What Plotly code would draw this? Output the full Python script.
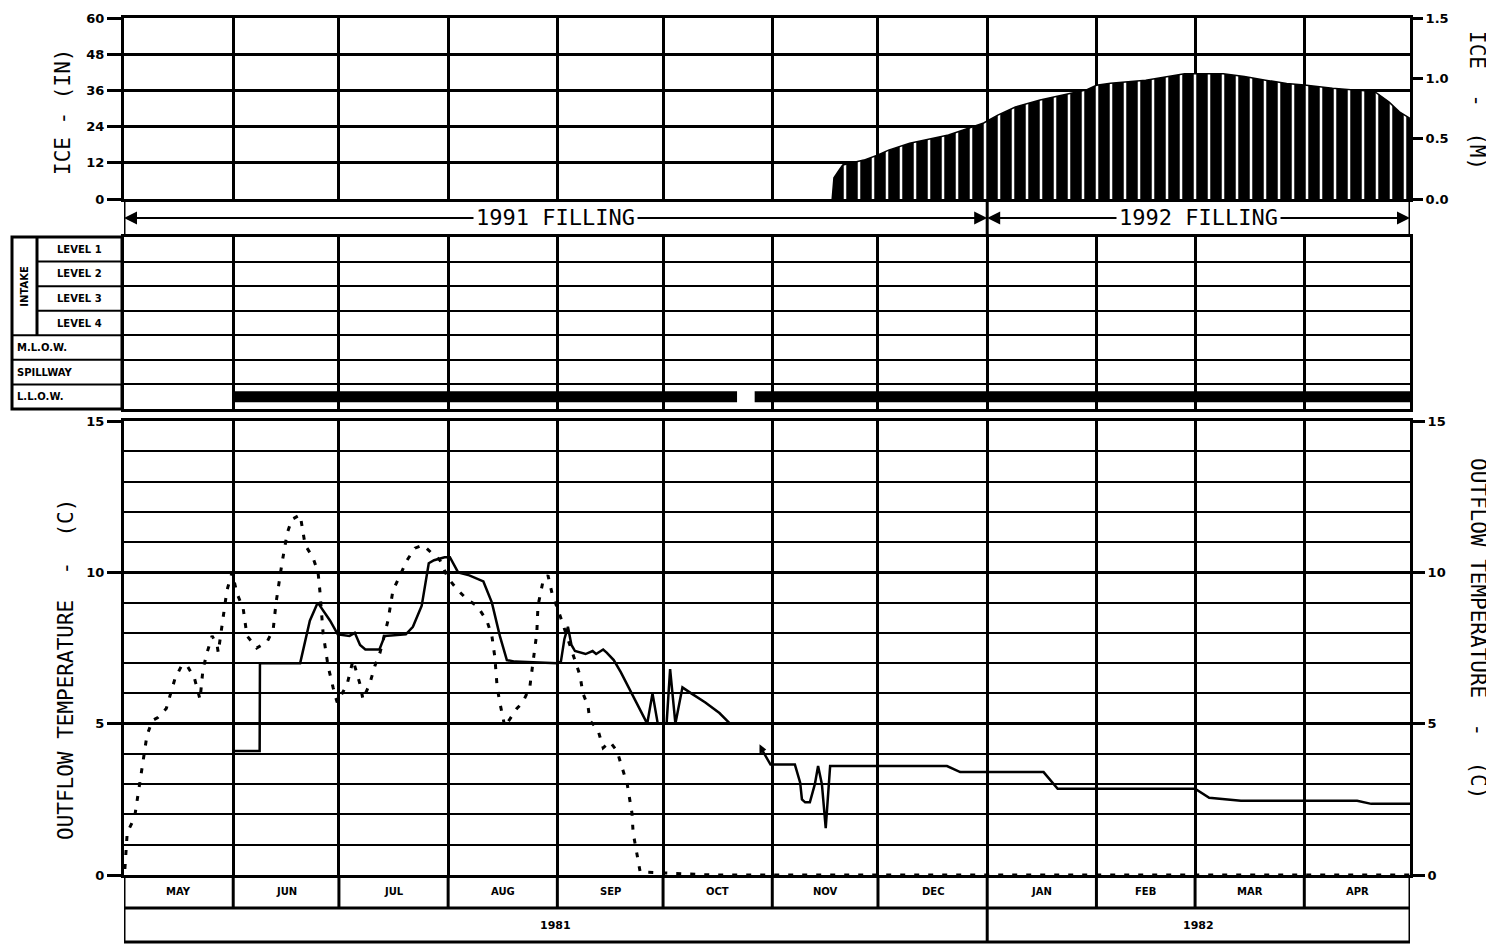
import pandas as pd
import plotly.graph_objects as go

# page has an 8px body margin; figure is sized to end exactly at the window edge
PAGE_OFF = 8
W, H = 1494 - PAGE_OFF, 946 - PAGE_OFF

# ---------------- data ----------------
month_starts = ["1981-05-01", "1981-06-01", "1981-07-01", "1981-08-01", "1981-09-01",
                "1981-10-01", "1981-11-01", "1981-12-01", "1982-01-01", "1982-02-01",
                "1982-03-01", "1982-04-01", "1982-05-01"]
month_labels = ["MAY", "JUN", "JUL", "AUG", "SEP", "OCT", "NOV", "DEC",
                "JAN", "FEB", "MAR", "APR"]
year_labels = ["1981", "1982"]
year_bounds = ["1981-05-01", "1982-01-01", "1982-05-01"]

filling_labels = ["1991 FILLING", "1992 FILLING"]
filling_bounds = ["1981-05-01", "1982-01-01", "1982-05-01"]

ice_in_ticks = [0, 12, 24, 36, 48, 60]
ice_m_ticks = [0.0, 0.5, 1.0, 1.5]
temp_ticks = [0, 5, 10, 15]

# ice thickness (inches)
ice_dates = ["1981-11-18", "1981-11-18 12:00", "1981-11-20", "1981-11-21", "1981-11-27",
             "1981-12-01", "1981-12-04", "1981-12-10", "1981-12-14", "1981-12-21",
             "1981-12-25", "1981-12-31", "1982-01-04", "1982-01-09", "1982-01-16",
             "1982-01-22", "1982-01-29", "1982-02-01", "1982-02-05", "1982-02-15",
             "1982-02-21", "1982-02-26", "1982-03-09", "1982-03-15", "1982-03-21",
             "1982-03-27", "1982-04-01", "1982-04-09", "1982-04-21", "1982-04-25",
             "1982-04-28", "1982-05-01"]
ice_in = [0, 7.0, 9.6, 11.3, 12.9,
          14.6, 16.2, 18.5, 19.5, 21.2,
          22.8, 25.2, 27.8, 30.5, 32.8,
          34.4, 36.1, 37.7, 38.4, 39.4,
          40.6, 41.5, 41.5, 40.6, 39.4,
          38.3, 37.8, 36.7, 35.6, 32.2,
          28.9, 26.7]

# outlet operation rows
intake_rows = ["LEVEL 1", "LEVEL 2", "LEVEL 3", "LEVEL 4", "M.L.O.W.", "SPILLWAY", "L.L.O.W."]
llow_start = ["1981-06-01", "1981-10-27"]
llow_end = ["1981-10-22", "1982-05-01"]

# dotted temperature series (deg C)
dotted_dates = ["1981-05-01 06:00", "1981-05-01 22:00", "1981-05-04", "1981-05-04 16:00",
                "1981-05-05 12:00", "1981-05-06", "1981-05-07 12:00", "1981-05-09",
                "1981-05-10 14:00", "1981-05-13", "1981-05-14 14:00", "1981-05-15 12:00",
                "1981-05-17 12:00", "1981-05-19", "1981-05-21", "1981-05-22",
                "1981-05-22 14:00", "1981-05-23 10:00", "1981-05-24 14:00", "1981-05-26",
                "1981-05-27 10:00", "1981-05-27 18:00", "1981-05-28 20:00", "1981-05-30 05:00",
                "1981-05-31 16:00", "1981-06-02 02:00", "1981-06-03 20:00", "1981-06-04 22:00",
                "1981-06-07 16:00", "1981-06-10 14:00", "1981-06-12 08:00", "1981-06-13 04:00",
                "1981-06-14 20:00", "1981-06-16 08:00", "1981-06-17 16:00", "1981-06-20",
                "1981-06-21 10:00", "1981-06-23 14:00", "1981-06-25 02:00", "1981-06-25 14:00",
                "1981-06-26 12:00", "1981-06-27 22:00", "1981-06-29 08:00", "1981-06-30 12:00",
                "1981-07-03 08:00", "1981-07-05", "1981-07-07", "1981-07-07 20:00",
                "1981-07-09 20:00", "1981-07-11 04:00", "1981-07-12 16:00", "1981-07-14 22:00",
                "1981-07-16 08:00", "1981-07-20 08:00", "1981-07-22 14:00", "1981-07-24 22:00",
                "1981-07-27 16:00", "1981-07-29 16:00", "1981-08-01", "1981-08-03 20:00",
                "1981-08-06 10:00", "1981-08-09 04:00", "1981-08-12", "1981-08-13 10:00",
                "1981-08-14 06:00", "1981-08-14 22:00", "1981-08-15 16:00", "1981-08-17 02:00",
                "1981-08-20 12:00", "1981-08-22 04:00", "1981-08-24 04:00", "1981-08-25 02:00",
                "1981-08-26 04:00", "1981-08-26 12:00", "1981-08-27 22:00", "1981-08-29 08:00",
                "1981-08-30 12:00", "1981-09-01 16:00", "1981-09-06", "1981-09-07 10:00",
                "1981-09-08 06:00", "1981-09-09 16:00", "1981-09-10 06:00", "1981-09-12 12:00",
                "1981-09-14", "1981-09-15 22:00", "1981-09-17 22:00", "1981-09-19 06:00",
                "1981-09-20 20:00", "1981-09-22 04:00", "1981-09-22 12:00", "1981-09-24 12:00",
                "1981-10-15", "1982-05-01"]
dotted_temp = [0.2, 1.4, 1.9, 2.4,
               3.0, 3.5, 4.6, 5.1,
               5.2, 5.5, 6.1, 6.5,
               6.95, 6.9, 6.5, 6.1,
               5.8, 6.8, 7.35, 7.9,
               7.6, 7.35, 8.3, 9.4,
               10.0, 9.3, 8.8, 7.9,
               7.5, 7.7, 8.1, 9.0,
               10.3, 11.3, 11.75, 11.9,
               10.9, 10.5, 10.0, 9.4,
               8.0, 6.9, 6.2, 5.7,
               6.3, 7.1, 6.3, 5.8,
               6.35, 6.9, 7.35, 8.4,
               9.4, 10.4, 10.8, 10.9,
               10.6, 10.4, 9.8, 9.4,
               9.1, 8.9, 8.4, 7.9,
               7.2, 6.2, 5.7, 4.9,
               5.5, 5.7, 6.2, 7.1,
               8.0, 8.9, 9.7, 9.9,
               9.3, 8.6, 7.1, 6.6,
               6.0, 5.6, 5.1, 4.8,
               4.2, 4.4, 4.1, 3.6,
               3.0, 2.05, 1.4, 0.1,
               0.0, 0.0]

# solid outflow temperature, first period
solid_a_dates = ["1981-06-01", "1981-06-08 12:00", "1981-06-08 14:00", "1981-06-20",
                 "1981-06-22 18:00", "1981-06-25", "1981-06-28 12:00", "1981-06-30 16:00",
                 "1981-07-04", "1981-07-05 12:00", "1981-07-07", "1981-07-08 12:00",
                 "1981-07-12 12:00", "1981-07-14", "1981-07-20", "1981-07-22",
                 "1981-07-24 12:00", "1981-07-26 12:00", "1981-07-28", "1981-07-31",
                 "1981-08-01 12:00", "1981-08-03 20:00", "1981-08-07", "1981-08-11",
                 "1981-08-13 10:00", "1981-08-15 16:00", "1981-08-17 16:00", "1981-08-20",
                 "1981-09-01", "1981-09-02", "1981-09-03", "1981-09-04",
                 "1981-09-05", "1981-09-06", "1981-09-09", "1981-09-11",
                 "1981-09-12", "1981-09-14", "1981-09-15", "1981-09-17",
                 "1981-09-19", "1981-09-22", "1981-09-25", "1981-09-26 12:00",
                 "1981-09-28", "1981-09-29 12:00", "1981-10-02", "1981-10-03",
                 "1981-10-04 12:00", "1981-10-06 12:00", "1981-10-09", "1981-10-13",
                 "1981-10-17", "1981-10-20"]
solid_a_temp = [4.1, 4.1, 7.0, 7.0,
                8.4, 9.0, 8.4, 7.95,
                7.9, 8.0, 7.6, 7.45,
                7.45, 7.9, 7.95, 8.2,
                8.9, 10.3, 10.4, 10.5,
                10.5, 10.0, 9.9, 9.7,
                9.0, 7.9, 7.1, 7.05,
                7.0, 7.05, 7.8, 8.2,
                7.6, 7.4, 7.3, 7.4,
                7.3, 7.45, 7.35, 7.1,
                6.7, 6.0, 5.3, 5.0,
                6.0, 5.0, 5.0, 6.8,
                5.0, 6.2, 6.0, 5.7,
                5.35, 5.0]

# solid outflow temperature, second period
solid_b_dates = ["1981-10-29", "1981-10-31 12:00", "1981-11-07 10:00", "1981-11-08 22:00",
                 "1981-11-09 10:00", "1981-11-10 08:00", "1981-11-11 16:00", "1981-11-13 02:00",
                 "1981-11-14", "1981-11-15 02:00", "1981-11-16 04:00", "1981-11-17 10:00",
                 "1981-12-20 14:00", "1981-12-24 08:00", "1982-01-17", "1982-01-21",
                 "1982-03-01", "1982-03-05", "1982-03-14", "1982-04-16",
                 "1982-04-20", "1982-05-01"]
solid_b_temp = [4.15, 3.65, 3.65, 3.05,
                2.5, 2.4, 2.4, 3.0,
                3.6, 3.0, 1.55, 3.6,
                3.6, 3.4, 3.4, 2.85,
                2.85, 2.55, 2.45, 2.45,
                2.35, 2.35]

# ---------------- layout helpers (window pixel -> paper fraction) ----------------
def fx(p):
    return (p - PAGE_OFF) / W

def fy(p):
    return 1 - (p - PAGE_OFF) / H

XD = [fx(124), fx(1410)]
ICE_TOP, ICE_BOT = 18, 199
INT_TOP, INT_BOT = 237, 409
TMP_TOP, TMP_BOT = 421, 875
MONTH_BOT, YEAR_BOT = 908, 942

BLACK = "black"
TICKFONT = dict(family="DejaVu Sans", size=13, color=BLACK, weight="bold")
TITLEFONT = dict(family="DejaVu Sans Mono", size=21, color=BLACK)
SMALLBOLD = dict(family="DejaVu Sans", size=10, color=BLACK, weight="bold")

fig = go.Figure()

# ice
fig.add_trace(go.Scatter(
    x=ice_dates, y=ice_in, xaxis="x", yaxis="y", mode="lines",
    line=dict(color=BLACK, width=1.5), fill="tozeroy", fillcolor=BLACK,
    fillpattern=dict(shape="|", size=14, solidity=0.18, fgcolor="white", bgcolor=BLACK,
                     fgopacity=1),
    showlegend=False, hoverinfo="skip"))
fig.add_trace(go.Scatter(x=[], y=[], xaxis="x", yaxis="y2", showlegend=False))

# L.L.O.W. operation bar
llow_x, llow_y = [], []
row_y = len(intake_rows) - 1 - intake_rows.index("L.L.O.W.") + 0.5
for s, e in zip(llow_start, llow_end):
    llow_x += [s, e, None]
    llow_y += [row_y, row_y, None]
fig.add_trace(go.Scatter(x=llow_x, y=llow_y, xaxis="x2", yaxis="y3", mode="lines",
                         line=dict(color=BLACK, width=11), showlegend=False))

# temperatures
fig.add_trace(go.Scatter(x=dotted_dates, y=dotted_temp, xaxis="x3", yaxis="y4",
                         mode="lines", line=dict(color=BLACK, width=3, dash="5px,9px"),
                         showlegend=False))
fig.add_trace(go.Scatter(x=solid_a_dates + [None] + solid_b_dates,
                         y=solid_a_temp + [None] + solid_b_temp,
                         xaxis="x3", yaxis="y4", mode="lines",
                         line=dict(color=BLACK, width=2.5), showlegend=False))
fig.add_trace(go.Scatter(x=solid_b_dates[:1], y=solid_b_temp[:1], xaxis="x3", yaxis="y4",
                         mode="markers", marker=dict(symbol="triangle-right", size=9,
                                                     color=BLACK), showlegend=False))
fig.add_trace(go.Scatter(x=[], y=[], xaxis="x3", yaxis="y5", showlegend=False))

xcommon = dict(type="date", range=[month_starts[0], month_starts[-1]], domain=XD,
               tick0=month_starts[0], dtick="M1", showgrid=True, gridcolor=BLACK,
               gridwidth=3, showticklabels=False, ticks="", showline=True,
               linecolor=BLACK, linewidth=3, mirror=True, zeroline=False,
               automargin=False)

fig.update_layout(
    width=W, height=H, margin=dict(l=0, r=0, t=0, b=0, pad=0), autosize=False,
    paper_bgcolor="white", plot_bgcolor="white", showlegend=False,
    xaxis=dict(xcommon, anchor="y"),
    xaxis2=dict(xcommon, anchor="y3"),
    xaxis3=dict(xcommon, anchor="y4"),
    yaxis=dict(domain=[fy(ICE_BOT), fy(ICE_TOP)], range=[0, 60], tickvals=ice_in_ticks,
               ticks="outside", ticklen=14, tickwidth=3, tickcolor=BLACK,
               showgrid=True, gridcolor=BLACK, gridwidth=3, showline=True,
               linecolor=BLACK, linewidth=3, mirror=True, zeroline=False,
               tickfont=TICKFONT, anchor="x", automargin=False),
    yaxis2=dict(overlaying="y", side="right", range=[0, 1.5], tickvals=ice_m_ticks,
                tickformat=".1f", ticks="outside", ticklen=12, tickwidth=3,
                tickcolor=BLACK, showgrid=False, zeroline=False, showline=False,
                tickfont=TICKFONT, anchor="x", automargin=False),
    yaxis3=dict(domain=[fy(INT_BOT), fy(INT_TOP)], range=[0, len(intake_rows)], dtick=1,
                showgrid=True, gridcolor=BLACK, gridwidth=2, showticklabels=False,
                ticks="", showline=True, linecolor=BLACK, linewidth=3, mirror=True,
                zeroline=False, anchor="x2", automargin=False),
    yaxis4=dict(domain=[fy(TMP_BOT), fy(TMP_TOP)], range=[0, 15], tick0=0, dtick=5,
                ticks="outside", ticklen=14, tickwidth=3, tickcolor=BLACK,
                showgrid=True, gridcolor=BLACK, gridwidth=3,
                minor=dict(dtick=1, tick0=0, showgrid=True, gridcolor=BLACK, gridwidth=2,
                           ticks=""),
                showline=True, linecolor=BLACK, linewidth=3, mirror=True, zeroline=False,
                tickfont=TICKFONT, anchor="x3", automargin=False),
    yaxis5=dict(overlaying="y4", side="right", range=[0, 15], tick0=0, dtick=5,
                ticks="outside", ticklen=14, tickwidth=3, tickcolor=BLACK,
                showgrid=False, zeroline=False, showline=False, tickfont=TICKFONT,
                anchor="x3", automargin=False),
)

shapes = []
annotations = []

def note(**kw):
    kw.setdefault("showarrow", False)
    kw.setdefault("xanchor", "center")
    kw.setdefault("yanchor", "middle")
    annotations.append(kw)

# month / year label rows under the temperature panel
for d in month_starts:
    shapes.append(dict(type="line", xref="x3", yref="paper", x0=d, x1=d,
                       y0=fy(TMP_BOT), y1=fy(MONTH_BOT), line=dict(color=BLACK, width=3)))
for d in year_bounds:
    shapes.append(dict(type="line", xref="x3", yref="paper", x0=d, x1=d,
                       y0=fy(MONTH_BOT), y1=fy(YEAR_BOT), line=dict(color=BLACK, width=3)))
for yy in (MONTH_BOT, YEAR_BOT):
    shapes.append(dict(type="line", xref="x3", yref="paper", x0=month_starts[0],
                       x1=month_starts[-1], y0=fy(yy), y1=fy(yy),
                       line=dict(color=BLACK, width=3)))

ms = pd.to_datetime(month_starts)
for i, lab in enumerate(month_labels):
    mid = ms[i] + (ms[i + 1] - ms[i]) / 2
    note(x=mid.strftime("%Y-%m-%d %H:%M"), y=fy((TMP_BOT + MONTH_BOT) / 2),
         xref="x3", yref="paper", text=lab, font=SMALLBOLD)
yb = pd.to_datetime(year_bounds)
for i, lab in enumerate(year_labels):
    mid = yb[i] + (yb[i + 1] - yb[i]) / 2
    note(x=mid.strftime("%Y-%m-%d %H:%M"), y=fy((MONTH_BOT + YEAR_BOT) / 2),
         xref="x3", yref="paper", text=lab,
         font=dict(family="DejaVu Sans", size=11, color=BLACK, weight="bold"))

# connectors between ice panel and intake panel (through the filling arrow row)
for d in filling_bounds:
    shapes.append(dict(type="line", xref="x", yref="paper", x0=d, x1=d,
                       y0=fy(ICE_BOT), y1=fy(INT_TOP), line=dict(color=BLACK, width=3)))

# filling arrows
FILL_Y = fy(218)
fb = pd.to_datetime(filling_bounds)
for i, lab in enumerate(filling_labels):
    mid = (fb[i] + (fb[i + 1] - fb[i]) / 2).strftime("%Y-%m-%d %H:%M")
    for end in (filling_bounds[i], filling_bounds[i + 1]):
        annotations.append(dict(x=end, y=FILL_Y, xref="x", yref="paper", ax=mid, ay=0,
                                axref="x", ayref="pixel", text="", showarrow=True,
                                arrowhead=2, arrowsize=1.3, arrowwidth=2,
                                arrowcolor=BLACK))
    note(x=mid, y=FILL_Y, xref="x", yref="paper", text=lab, bgcolor="white", borderpad=2,
         font=dict(family="DejaVu Sans Mono", size=22, color=BLACK))

# intake label box on the left
row_h = (INT_BOT - INT_TOP) / len(intake_rows)
BOX_L, BOX_M, BOX_R = 12, 37, 122
shapes.append(dict(type="rect", xref="paper", yref="paper", x0=fx(BOX_L), x1=fx(BOX_R),
                   y0=fy(INT_BOT), y1=fy(INT_TOP), line=dict(color=BLACK, width=3)))
shapes.append(dict(type="line", xref="paper", yref="paper", x0=fx(BOX_M), x1=fx(BOX_M),
                   y0=fy(INT_TOP), y1=fy(INT_TOP + 4 * row_h), line=dict(color=BLACK, width=3)))
for k in range(1, len(intake_rows)):
    yy = INT_TOP + k * row_h
    x0 = BOX_M if k < 4 else BOX_L
    shapes.append(dict(type="line", xref="paper", yref="paper", x0=fx(x0), x1=fx(BOX_R),
                       y0=fy(yy), y1=fy(yy), line=dict(color=BLACK, width=2)))
for k, lab in enumerate(intake_rows):
    yc = fy(INT_TOP + (k + 0.5) * row_h)
    if k < 4:
        note(x=fx((BOX_M + BOX_R) / 2), y=yc, xref="paper", yref="paper", text=lab,
             font=SMALLBOLD)
    else:
        note(x=fx(BOX_L + 3), y=yc, xref="paper", yref="paper", text=lab, xanchor="left",
             font=SMALLBOLD)
note(x=fx((BOX_L + BOX_M) / 2), y=fy(INT_TOP + 2 * row_h), xref="paper", yref="paper",
     text="INTAKE", textangle=-90, font=SMALLBOLD)

# axis titles
note(x=fx(63), y=fy(112), xref="paper", yref="paper", text="ICE - (IN)",
     textangle=-90, font=TITLEFONT)
note(x=fx(1477), y=fy(100), xref="paper", yref="paper", text="ICE  -  (M)",
     textangle=90, font=TITLEFONT)
note(x=fx(66), y=fy(670), xref="paper", yref="paper", text="OUTFLOW TEMPERATURE  -  (C)",
     textangle=-90, font=TITLEFONT)
note(x=fx(1478), y=fy(628), xref="paper", yref="paper", text="OUTFLOW TEMPERATURE  -  (C)",
     textangle=90, font=TITLEFONT)

fig.update_layout(shapes=shapes, annotations=annotations)
fig.write_html("out.html")
